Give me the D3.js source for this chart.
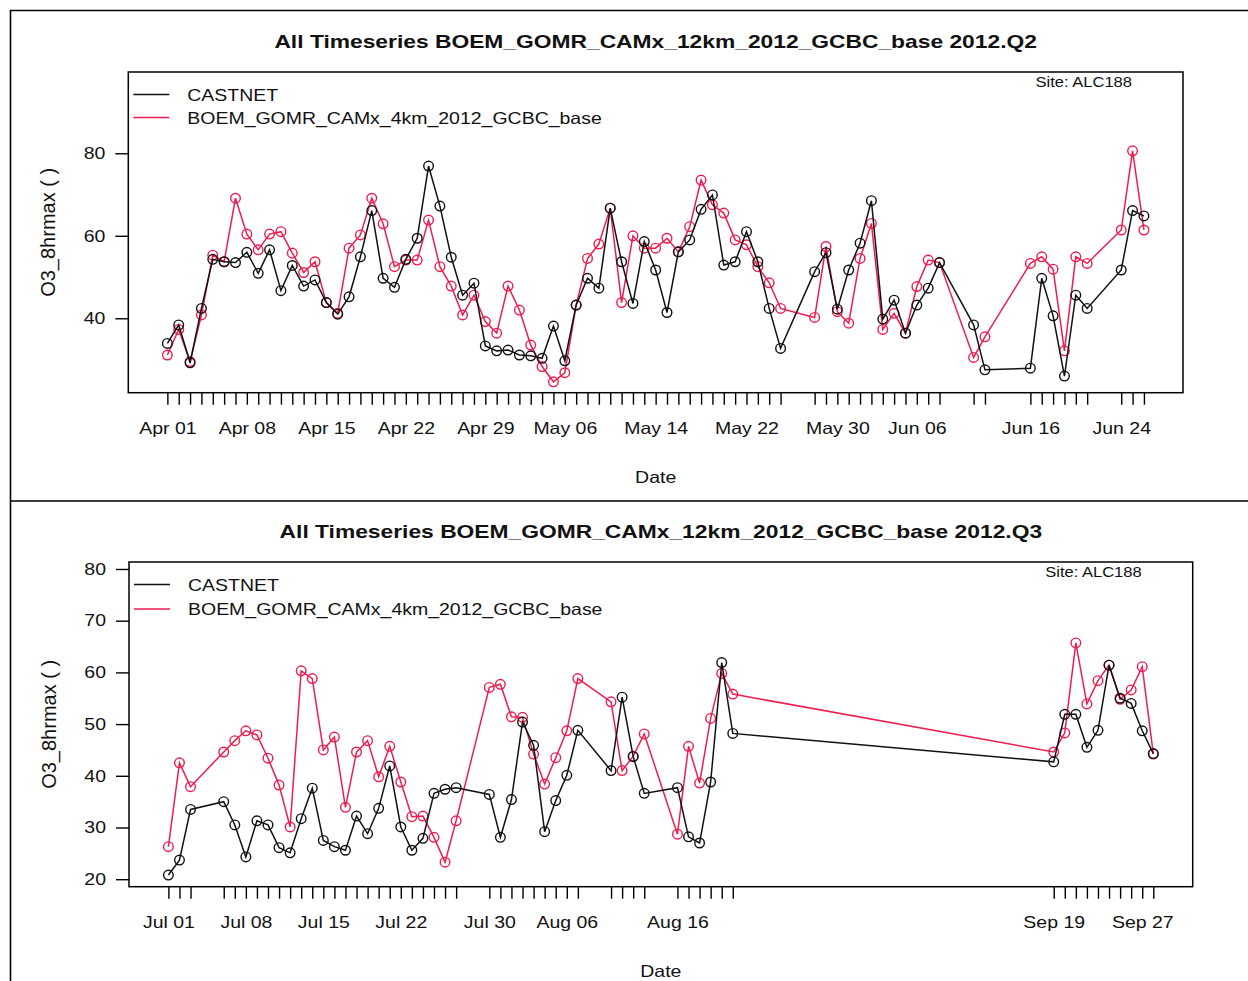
<!DOCTYPE html>
<html>
<head>
<meta charset="utf-8">
<script src="https://cdn.jsdelivr.net/npm/d3@7"></script>
<style>
  html, body { margin: 0; padding: 0; background: #fff; }
  svg { display: block; }
  text { font-family: "Liberation Sans", Arial, Helvetica, sans-serif; fill: #111; }
</style>
</head>
<body>
<svg id="chart" width="1248" height="981"></svg>
<script>
// ---- Series names and titles ----
const seriesNames = ["CASTNET", "BOEM_GOMR_CAMx_4km_2012_GCBC_base"];
const siteLabel = "Site: ALC188";
const yAxisTitle = "O3_8hrmax ( )";
const xAxisTitle = "Date";
const titleQ2 = "All Timeseries BOEM_GOMR_CAMx_12km_2012_GCBC_base 2012.Q2";
const titleQ3 = "All Timeseries BOEM_GOMR_CAMx_12km_2012_GCBC_base 2012.Q3";

// ---- 2012 Q2 (Apr-Jun) daily O3 8-hr max ----
const q2Dates = [
  "04-01","04-02","04-03","04-04","04-05","04-06","04-07","04-08","04-09","04-10",
  "04-11","04-12","04-13","04-14","04-15","04-16","04-17","04-18","04-19","04-20",
  "04-21","04-22","04-23","04-24","04-25","04-26","04-27","04-28","04-29","04-30",
  "05-01","05-02","05-03","05-04","05-05","05-06","05-07","05-08","05-09","05-10",
  "05-11","05-12","05-13","05-14","05-15","05-16","05-17","05-18","05-19","05-20",
  "05-21","05-22","05-23","05-24","05-25",
  "05-28","05-29","05-30","05-31",
  "06-01","06-02","06-03","06-04","06-05","06-06","06-07","06-08",
  "06-11","06-12",
  "06-16","06-17","06-18","06-19","06-20","06-21",
  "06-24","06-25","06-26"
];
const q2Castnet = [
  33.9, 38.4, 29.2, 42.4, 54.3, 53.7, 53.5, 56.0, 50.9, 56.6,
  46.7, 52.8, 47.8, 49.3, 43.8, 41.0, 45.2, 54.9, 66.1, 49.7,
  47.5, 54.3, 59.4, 76.9, 67.2, 54.8, 45.6, 48.5, 33.3, 32.1,
  32.3, 31.1, 30.9, 30.3, 38.1, 29.7, 43.2, 49.7, 47.3, 66.7,
  53.7, 43.6, 58.6, 51.7, 41.4, 56.1, 59.0, 66.4, 69.9, 52.9,
  53.7, 61.0, 53.7, 42.4, 32.7,
  51.3, 55.9, 42.2, 51.7,
  58.2, 68.5, 39.8, 44.4, 36.4, 43.2, 47.3, 53.5,
  38.4, 27.5,
  27.9, 49.7, 40.6, 26.0, 45.6, 42.4,
  51.7, 66.1, 64.8
];
const q2Model = [
  31.1, 37.3, 29.5, 40.8, 55.3, 53.7, 69.1, 60.4, 56.6, 60.4,
  61.0, 55.8, 51.1, 53.7, 43.8, 41.2, 57.0, 60.2, 69.1, 62.9,
  52.5, 54.1, 54.1, 63.8, 52.5, 47.8, 40.8, 45.6, 39.2, 36.4,
  47.8, 42.0, 33.5, 28.3, 24.6, 26.8, 43.2, 54.5, 58.0, 66.7,
  43.8, 60.0, 57.0, 57.0, 59.4, 56.1, 62.2, 73.5, 67.5, 65.5,
  59.0, 57.8, 52.5, 48.6, 42.4,
  40.2, 57.4, 41.6, 38.8,
  54.5, 63.0, 37.3, 41.2, 36.4, 47.7, 54.1, 53.5,
  30.5, 35.5,
  53.3, 54.9, 51.9, 32.1, 54.9, 53.3,
  61.4, 80.6, 61.4
];
const q2TickLabels = ["04-01","04-08","04-15","04-22","04-29","05-06","05-14","05-22","05-30","06-06","06-16","06-24"];
const q2YTicks = [40, 60, 80];

// ---- 2012 Q3 (Jul-Sep) daily O3 8-hr max ----
const q3Dates = [
  "07-01","07-02","07-03",
  "07-06","07-07","07-08","07-09","07-10","07-11","07-12","07-13","07-14","07-15","07-16",
  "07-17","07-18","07-19","07-20","07-21","07-22","07-23","07-24","07-25","07-26","07-27",
  "07-30","07-31",
  "08-01","08-02","08-03","08-04","08-05","08-06","08-07",
  "08-10","08-11","08-12","08-13",
  "08-16","08-17","08-18","08-19","08-20","08-21",
  "09-19","09-20","09-21","09-22","09-23","09-24","09-25","09-26","09-27","09-28"
];
const q3Castnet = [
  20.8, 23.7, 33.5,
  35.0, 30.5, 24.3, 31.3, 30.5, 26.1, 25.1, 31.7, 37.6, 27.5, 26.3,
  25.6, 32.2, 28.8, 33.7, 41.9, 30.1, 25.6, 27.9, 36.6, 37.4, 37.7,
  36.4, 28.1,
  35.4, 50.4, 45.9, 29.2, 35.2, 40.1, 48.8,
  41.0, 55.2, 43.7, 36.6,
  37.7, 28.2, 27.0, 38.8, 61.9, 48.2,
  42.7, 51.9, 51.9, 45.5, 48.8, 61.4, 55.0, 54.0, 48.7, 44.3
];
const q3Model = [
  26.3, 42.5, 37.9,
  44.6, 46.8, 48.7, 47.9, 43.4, 38.2, 30.1, 60.3, 58.8, 45.0, 47.5,
  33.9, 44.6, 46.8, 39.8, 45.7, 38.8, 32.1, 32.2, 28.1, 23.3, 31.3,
  57.1, 57.7,
  51.4, 51.3, 44.2, 38.4, 43.5, 48.7, 58.8,
  54.3, 41.0, 43.8, 48.1,
  28.7, 45.7, 38.6, 51.1, 59.8, 55.8,
  44.6, 48.3, 65.7, 53.9, 58.4, 61.4, 54.8, 56.6, 61.1, 44.2
];
const q3TickLabels = ["07-01","07-08","07-15","07-22","07-30","08-06","08-16","09-19","09-27"];
const q3YTicks = [20, 30, 40, 50, 60, 70, 80];

// ---- Rendering ----
const svg = d3.select("#chart");
const parseDay = s => d3.utcParse("%Y-%m-%d")("2012-" + s);
const fmtDay = d3.utcFormat("%b %d");
const BLACK = "#111111";
const RED = "#ef1d4e";
const FONT = 16.5;          // base label size
const TEXT_STRETCH = 1.18;  // horizontal text is drawn a little wide in this figure style

function stretch(sel, k) {
  sel.each(function () {
    const w = this.getComputedTextLength();
    if (w > 0) {
      this.setAttribute("textLength", w * k);
      this.setAttribute("lengthAdjust", "spacingAndGlyphs");
    }
  });
}

svg.append("rect").attr("width", 1248).attr("height", 981).attr("fill", "#fff");

// outer frame and panel divider
const frame = svg.append("g").attr("stroke", "#000").attr("stroke-width", 1.6).attr("fill", "none");
frame.append("line").attr("x1", 10).attr("y1", 10.5).attr("x2", 1248).attr("y2", 10.5);
frame.append("line").attr("x1", 10.5).attr("y1", 10).attr("x2", 10.5).attr("y2", 981);
frame.append("line").attr("x1", 10).attr("y1", 501).attr("x2", 1248).attr("y2", 501);

function drawPanel(cfg) {
  const dates = cfg.dates.map(parseDay);
  const obs = dates.map((d, i) => ({ date: d, v: cfg.castnet[i] }));
  const mod = dates.map((d, i) => ({ date: d, v: cfg.model[i] }));

  // date axis padded by 4% of the data span on each side
  const first = dates[0], last = dates[dates.length - 1];
  const pad = (last - first) * 0.04;
  const x = d3.scaleUtc()
    .domain([new Date(+first - pad), new Date(+last + pad)])
    .range([cfg.left, cfg.right]);
  const y = d3.scaleLinear().domain(cfg.yDomain).range([cfg.bottom, cfg.top]);

  const g = svg.append("g");

  // title
  const title = g.append("text")
    .attr("x", (cfg.left + cfg.right) / 2).attr("y", cfg.titleY)
    .attr("text-anchor", "middle")
    .attr("font-size", 19).attr("font-weight", "bold")
    .text(cfg.title);
  stretch(title, 1.2);

  // x axis: a tick at every observation date, labels on selected dates
  const labelSet = new Set(cfg.tickLabels.map(s => +parseDay(s)));
  const xAxis = g.append("g")
    .attr("transform", `translate(0,${cfg.bottom})`)
    .call(d3.axisBottom(x)
      .tickValues(dates)
      .tickSize(12)
      .tickPadding(17.5)
      .tickFormat(d => labelSet.has(+d) ? fmtDay(d) : ""));
  xAxis.select(".domain").remove();
  xAxis.selectAll(".tick line").attr("stroke", "#000").attr("stroke-width", 1.4);
  xAxis.selectAll(".tick text")
    .attr("font-size", FONT).attr("fill", "#111")
    .style("font-family", '"Liberation Sans", Arial, sans-serif');
  stretch(xAxis.selectAll(".tick text"), TEXT_STRETCH);

  // y axis
  const yAxis = g.append("g")
    .attr("transform", `translate(${cfg.left},0)`)
    .call(d3.axisLeft(y).tickValues(cfg.yTicks).tickSize(13).tickPadding(10));
  yAxis.select(".domain").remove();
  yAxis.selectAll(".tick line").attr("stroke", "#000").attr("stroke-width", 1.4);
  yAxis.selectAll(".tick text")
    .attr("font-size", FONT).attr("fill", "#111")
    .style("font-family", '"Liberation Sans", Arial, sans-serif');
  stretch(yAxis.selectAll(".tick text"), TEXT_STRETCH);

  // axis titles
  g.append("text")
    .attr("transform", `translate(${cfg.left - 73},${(cfg.top + cfg.bottom) / 2}) rotate(-90)`)
    .attr("text-anchor", "middle")
    .attr("font-size", 20)
    .text(yAxisTitle);
  const xt = g.append("text")
    .attr("x", (cfg.left + cfg.right) / 2).attr("y", cfg.xTitleY)
    .attr("text-anchor", "middle")
    .attr("font-size", FONT)
    .text(xAxisTitle);
  stretch(xt, TEXT_STRETCH);

  // plot box
  g.append("rect")
    .attr("x", cfg.left).attr("y", cfg.top)
    .attr("width", cfg.right - cfg.left).attr("height", cfg.bottom - cfg.top)
    .attr("fill", "none").attr("stroke", "#000").attr("stroke-width", 1.5);

  // series: model first so observations sit on top
  const line = d3.line().x(d => x(d.date)).y(d => y(d.v));
  [[mod, RED], [obs, BLACK]].forEach(([pts, col]) => {
    g.append("path").datum(pts)
      .attr("d", line).attr("fill", "none")
      .attr("stroke", col).attr("stroke-width", 1.5);
    g.append("g").selectAll("circle").data(pts).join("circle")
      .attr("cx", d => x(d.date)).attr("cy", d => y(d.v))
      .attr("r", 4.8).attr("fill", "none")
      .attr("stroke", col).attr("stroke-width", 1.4);
  });

  // site label
  const site = g.append("text")
    .attr("x", cfg.right - 51).attr("y", cfg.top + 14.5)
    .attr("text-anchor", "end")
    .attr("font-size", 14)
    .text(siteLabel);
  stretch(site, TEXT_STRETCH);

  // legend
  [BLACK, RED].forEach((col, i) => {
    const ly = cfg.top + 22.5 + i * cfg.legendGap;
    g.append("line")
      .attr("x1", cfg.left + 5).attr("x2", cfg.left + 41)
      .attr("y1", ly).attr("y2", ly)
      .attr("stroke", col).attr("stroke-width", 1.5);
    const t = g.append("text")
      .attr("x", cfg.left + 59).attr("y", ly + 6)
      .attr("font-size", FONT)
      .text(seriesNames[i]);
    stretch(t, TEXT_STRETCH);
  });
}

drawPanel({
  title: titleQ2, titleY: 48,
  left: 128.3, right: 1183, top: 72, bottom: 392.7,
  yDomain: [21.96, 99.7], yTicks: q2YTicks,
  dates: q2Dates, castnet: q2Castnet, model: q2Model,
  tickLabels: q2TickLabels, xTitleY: 483, legendGap: 23
});

drawPanel({
  title: titleQ3, titleY: 538,
  left: 129, right: 1192.7, top: 562, bottom: 886.7,
  yDomain: [18.55, 81.35], yTicks: q3YTicks,
  dates: q3Dates, castnet: q3Castnet, model: q3Model,
  tickLabels: q3TickLabels, xTitleY: 977, legendGap: 24.5
});
</script>
</body>
</html>
